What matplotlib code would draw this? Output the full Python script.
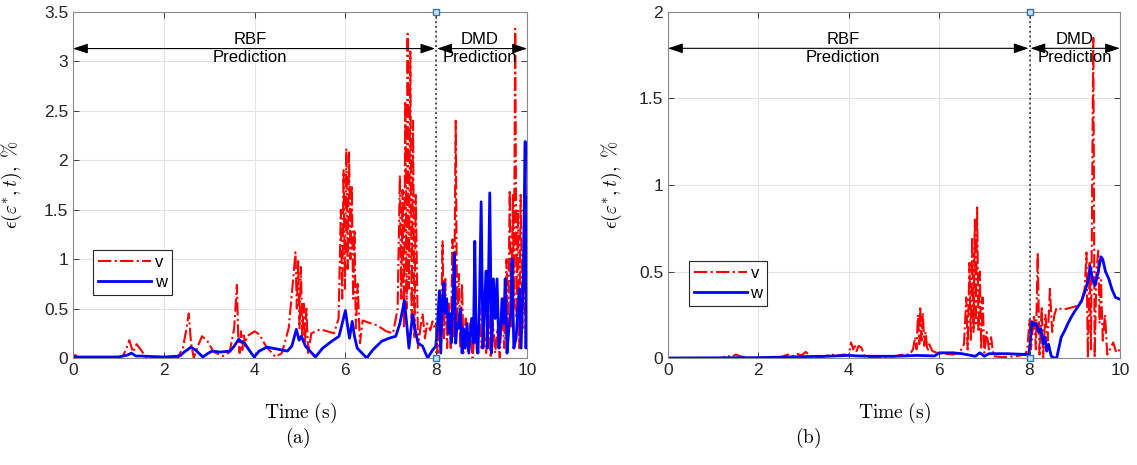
import matplotlib.pyplot as plt

plt.rcParams['mathtext.fontset'] = 'cm'
plt.rcParams['font.family'] = 'Liberation Sans'

# ---- panel (a) ----
ta_v = [0, 0.05, 0.1, 0.2, 1.0, 1.1, 1.18, 1.24, 1.32, 1.40, 1.5, 1.62, 2.3, 2.42, 2.5, 2.55, 2.6, 2.66,
        2.75, 2.84, 2.95, 3.1, 3.3, 3.45, 3.55, 3.61, 3.64, 3.67, 3.70, 3.73, 3.76, 3.79, 3.83, 3.9, 4.0,
        4.1, 4.25, 4.46, 4.6, 4.75, 4.85, 4.9, 4.93, 4.96, 4.99, 5.02, 5.05, 5.08, 5.11, 5.14, 5.18, 5.25,
        5.45, 5.6, 5.75, 5.85, 5.9, 5.93, 5.96, 5.99, 6.02, 6.05, 6.08, 6.11, 6.14, 6.17, 6.20, 6.23, 6.27,
        6.32, 6.38, 6.5, 6.7, 6.9, 7.05, 7.15, 7.2, 7.23, 7.26, 7.29, 7.32, 7.35, 7.37, 7.40, 7.43, 7.46,
        7.49, 7.52, 7.55, 7.6, 7.65, 7.7, 7.75, 7.8, 7.87, 7.92, 7.97,
        8.0, 8.03, 8.06, 8.1, 8.14, 8.17, 8.2, 8.24, 8.28, 8.32, 8.36, 8.39, 8.43, 8.46, 8.5, 8.53, 8.57,
        8.6, 8.65, 8.7, 8.75, 8.8, 8.85, 8.9, 8.95, 9.0, 9.05, 9.1, 9.15, 9.2, 9.25, 9.3, 9.35, 9.4, 9.45,
        9.5, 9.55, 9.58, 9.62, 9.65, 9.69, 9.71, 9.74, 9.77, 9.8, 9.83, 9.86, 9.9, 9.94, 9.97, 10.0]
va_v = [0.01, 0.03, 0.01, 0.0, 0.0, 0.02, 0.1, 0.18, 0.06, 0.14, 0.08, 0.0, 0.0, 0.1, 0.3, 0.45, 0.15, 0.0,
        0.12, 0.22, 0.18, 0.06, 0.02, 0.06, 0.3, 0.74, 0.2, 0.05, 0.27, 0.08, 0.25, 0.12, 0.22, 0.24, 0.27,
        0.24, 0.12, 0.01, 0.05, 0.3, 0.8, 1.07, 0.5, 0.98, 0.3, 0.92, 0.2, 0.55, 0.15, 0.5, 0.05, 0.25,
        0.29, 0.27, 0.25, 0.4, 1.5, 0.6, 1.9, 0.7, 2.12, 0.9, 2.08, 1.0, 1.75, 0.6, 1.3, 0.3, 0.75,
        0.15, 0.38, 0.36, 0.33, 0.27, 0.25, 0.5, 1.85, 0.6, 1.7, 0.3, 2.6, 0.5, 3.28, 0.7, 3.1, 0.4,
        2.4, 0.2, 1.65, 0.1, 0.3, 0.45, 0.2, 0.35, 0.28, 0.37, 0.3,
        0.35, 0.05, 0.6, 0.1, 1.18, 0.2, 0.8, 0.1, 0.55, 0.1, 1.2, 0.2, 2.4, 0.3, 0.85, 0.1, 0.75,
        0.05, 0.4, 0.05, 0.35, 0.0, 0.3, 0.05, 0.5, 0.1, 0.3, 0.05, 0.45, 0.0, 0.35, 0.05, 0.3, 0.0, 0.5,
        0.1, 1.0, 0.2, 1.7, 0.3, 1.65, 0.5, 3.33, 0.4, 1.5, 0.1, 1.65, 0.3, 1.2, 0.1, 0.85]

ta_w = [0, 1.0, 1.2, 1.29, 1.38, 1.5, 2.0, 2.35, 2.45, 2.6, 2.7, 2.86, 2.95, 3.06, 3.25, 3.46, 3.55, 3.65,
        3.72, 3.78, 3.88, 3.99, 4.1, 4.27, 4.5, 4.72, 4.82, 4.92, 4.98, 5.03, 5.12, 5.34, 5.5, 5.7, 5.86,
        5.93, 6.0, 6.05, 6.09, 6.15, 6.2, 6.26, 6.47, 6.6, 6.8, 6.96, 7.11, 7.2, 7.3, 7.36, 7.4, 7.48,
        7.53, 7.6, 7.7, 7.81, 7.92, 7.99,
        8.03, 8.07, 8.1, 8.14, 8.17, 8.2, 8.23, 8.27, 8.3, 8.33, 8.37, 8.4, 8.43, 8.46, 8.5, 8.53, 8.57,
        8.6, 8.64, 8.68, 8.72, 8.78, 8.82, 8.85, 8.88, 8.92, 8.95, 8.99, 9.03, 9.06, 9.1, 9.13, 9.18, 9.22,
        9.26, 9.3, 9.34, 9.38, 9.42, 9.45, 9.49, 9.52, 9.56, 9.6, 9.64, 9.67, 9.71, 9.76, 9.8, 9.83, 9.87,
        9.92, 9.96, 9.98, 10.0]
va_w = [0.01, 0.01, 0.03, 0.05, 0.02, 0.02, 0.01, 0.02, 0.06, 0.11, 0.08, 0.01, 0.04, 0.07, 0.06, 0.07, 0.12, 0.19,
        0.16, 0.15, 0.08, 0.01, 0.07, 0.11, 0.09, 0.07, 0.12, 0.29, 0.18, 0.22, 0.12, 0.01, 0.1, 0.17, 0.22,
        0.35, 0.48, 0.32, 0.2, 0.37, 0.22, 0.1, 0.0, 0.08, 0.17, 0.2, 0.22, 0.35, 0.58, 0.3, 0.1, 0.44,
        0.3, 0.15, 0.12, 0.0, 0.08, 0.12,
        0.35, 0.68, 0.05, 0.6, 0.76, 0.45, 0.6, 0.25, 0.45, 0.15, 0.6, 1.06, 0.15, 0.35, 0.3, 0.5, 0.05,
        0.3, 0.1, 0.35, 0.05, 0.4, 0.15, 1.18, 0.2, 0.05, 0.5, 1.58, 0.1, 0.5, 0.88, 0.1, 1.67, 0.05,
        0.8, 0.4, 0.8, 0.1, 0.3, 0.6, 0.35, 0.8, 0.05, 0.3, 0.45, 1.0, 0.1, 0.2, 0.5, 0.7, 0.1,
        0.9, 2.19, 0.1, 1.62]

# ---- panel (b) ----
tb_v = [0, 1.2, 1.3, 1.4, 1.5, 1.6, 1.8, 2.5, 2.65, 2.75, 2.85, 2.95, 3.05, 3.15, 3.4, 3.6, 3.75, 3.9,
        4.0, 4.05, 4.1, 4.13, 4.17, 4.22, 4.28, 4.35, 4.6, 5.0, 5.2, 5.35, 5.42, 5.47, 5.5, 5.53, 5.56,
        5.58, 5.61, 5.64, 5.67, 5.7, 5.74, 5.78, 5.85, 5.95, 6.1, 6.3, 6.45, 6.55, 6.6, 6.63, 6.67, 6.7,
        6.73, 6.76, 6.79, 6.81, 6.84, 6.87, 6.9, 6.93, 6.96, 7.0, 7.05, 7.1, 7.15, 7.2, 7.4, 7.7, 7.9,
        7.95, 8.0, 8.03, 8.1, 8.14, 8.18, 8.22, 8.27, 8.3, 8.35, 8.4, 8.45, 8.5, 8.55, 8.6, 8.75, 8.9,
        9.05, 9.15, 9.22, 9.26, 9.29, 9.33, 9.36, 9.41, 9.44, 9.48, 9.52, 9.55, 9.58, 9.62, 9.67, 9.72,
        9.78, 9.85, 9.92, 10.0]
vb_v = [0.0, 0.0, 0.015, 0.005, 0.02, 0.01, 0.0, 0.005, 0.02, 0.01, 0.025, 0.015, 0.035, 0.01, 0.005, 0.02, 0.015, 0.02,
        0.015, 0.09, 0.05, 0.08, 0.04, 0.07, 0.06, 0.01, 0.0, 0.01, 0.02, 0.02, 0.05, 0.12, 0.05, 0.25, 0.08,
        0.3, 0.1, 0.26, 0.07, 0.15, 0.04, 0.08, 0.04, 0.03, 0.025, 0.02, 0.03, 0.08, 0.35, 0.05, 0.55, 0.1,
        0.7, 0.15, 0.8, 0.2, 0.87, 0.15, 0.5, 0.05, 0.35, 0.03, 0.15, 0.05, 0.12, 0.01, 0.005, 0.01, 0.02,
        0.05, 0.22, 0.05, 0.25, 0.05, 0.61, 0.02, 0.3, 0.0, 0.25, 0.1, 0.4, 0.15, 0.25, 0.29, 0.28, 0.29,
        0.3, 0.33, 0.4, 0.61, 0.0, 0.55, 0.05, 1.85, 0.0, 0.5, 0.62, 0.2, 0.45, 0.1, 0.25, 0.02,
        0.05, 0.09, 0.03, 0.05]

tb_w = [0, 2.0, 3.0, 3.5, 4.0, 4.2, 4.5, 5.0, 5.5, 5.9, 6.0, 6.3, 6.5, 6.8, 6.9, 7.0, 7.1, 7.5, 7.98,
        8.02, 8.05, 8.1, 8.15, 8.2, 8.25, 8.3, 8.34, 8.38, 8.42, 8.48, 8.55, 8.6, 8.65, 8.7, 8.78, 8.85,
        8.93, 9.0, 9.08, 9.15, 9.22, 9.3, 9.34, 9.4, 9.45, 9.52, 9.58, 9.62, 9.68, 9.75, 9.82, 9.9, 10.0]
vb_w = [0.0, 0.002, 0.008, 0.01, 0.015, 0.012, 0.01, 0.01, 0.015, 0.012, 0.03, 0.03, 0.025, 0.01, 0.03, 0.01, 0.025, 0.025, 0.02,
        0.1, 0.21, 0.19, 0.2, 0.15, 0.17, 0.08, 0.12, 0.04, 0.08, 0.01, 0.0, 0.0, 0.06, 0.12, 0.16, 0.2,
        0.24, 0.27, 0.3, 0.33, 0.38, 0.45, 0.53, 0.45, 0.42, 0.5, 0.585, 0.57, 0.5, 0.46, 0.4, 0.35, 0.34]

panels = [
    dict(tv=ta_v, v=va_v, tw=ta_w, w=va_w, ymax=3.5, yticks=[0, 0.5, 1, 1.5, 2, 2.5, 3, 3.5],
         arrow_y=3.13, rbf_x=3.9, dmd_x=8.96, pos=[0.0642, 0.2301, 0.3993, 0.7441],
         leg=(0.044, 0.182), cap='(a)', capx=298, ylab_x=-0.108),
    dict(tv=tb_v, v=vb_v, tw=tb_w, w=vb_w, ymax=2, yticks=[0, 0.5, 1, 1.5, 2],
         arrow_y=1.79, rbf_x=3.87, dmd_x=9.0, pos=[0.5875, 0.2301, 0.3975, 0.7441],
         leg=(0.046, 0.15), cap='(b)', capx=808, ylab_x=-0.097),
]

fig = plt.figure(figsize=(11.37, 4.65), dpi=100)

for p in panels:
    ax = fig.add_axes(p['pos'])
    ax.plot(p['tv'], p['v'], color='red', linestyle='-.', linewidth=1.5, label='v')
    ax.plot(p['tw'], p['w'], color='blue', linestyle='-', linewidth=2.0, label='w')
    ax.set_xlim(0, 10)
    ax.set_ylim(0, p['ymax'])
    ax.set_xticks([0, 2, 4, 6, 8, 10])
    ax.set_yticks(p['yticks'])
    ax.set_yticklabels([('%g' % y) for y in p['yticks']])
    ax.grid(True, color='#e3e3e3', linewidth=0.8)
    ax.set_axisbelow(True)
    ax.tick_params(direction='in', top=True, right=True, length=4, labelsize=12.5,
                   colors='#262626', width=0.6)
    for s in ax.spines.values():
        s.set_color('#8a8a8a')
        s.set_linewidth(0.8)

    # dotted separator with square markers
    ax.plot([8, 8], [0, p['ymax']], color='#404040', linestyle=':', linewidth=1.3,
            marker='s', markersize=5, markerfacecolor='#cfe2f3', markeredgecolor='#2e75b6',
            clip_on=False, zorder=5)

    arrow = dict(arrowstyle='<|-|>,head_length=0.9,head_width=0.3', color='black', lw=0.8,
                 shrinkA=0, shrinkB=0)
    ax.annotate('', xy=(0, p['arrow_y']), xytext=(7.98, p['arrow_y']), arrowprops=arrow)
    ax.annotate('', xy=(8.02, p['arrow_y']), xytext=(10, p['arrow_y']), arrowprops=arrow,
                annotation_clip=False)
    ax.text(p['rbf_x'], p['arrow_y'], 'RBF\nPrediction', ha='center', va='center',
            fontsize=12, linespacing=1.25)
    ax.text(p['dmd_x'], p['arrow_y'], 'DMD\nPrediction', ha='center', va='center',
            fontsize=12, linespacing=1.25)

    ax.set_xlabel(r'$\mathrm{Time\ (s)}$', fontsize=14)
    ax.xaxis.set_label_coords(0.5, -0.125)
    ax.set_ylabel(r'$\epsilon(\varepsilon^{*},t),\ \%$', fontsize=14)
    ax.yaxis.set_label_coords(p['ylab_x'], 0.5)

    leg = ax.legend(loc='lower left', bbox_to_anchor=p['leg'], fontsize=12, handlelength=3.2,
                    fancybox=False, framealpha=1, edgecolor='#262626', borderpad=0.3,
                    labelspacing=0.3, handletextpad=0.2, borderaxespad=0)
    leg.get_frame().set_linewidth(0.8)

    fig.text(p['capx'] / 1137, 1 - 438 / 465, r'$\mathrm{%s}$' % p['cap'], ha='center',
             va='center', fontsize=14)

fig.savefig('out.png', dpi=100)
